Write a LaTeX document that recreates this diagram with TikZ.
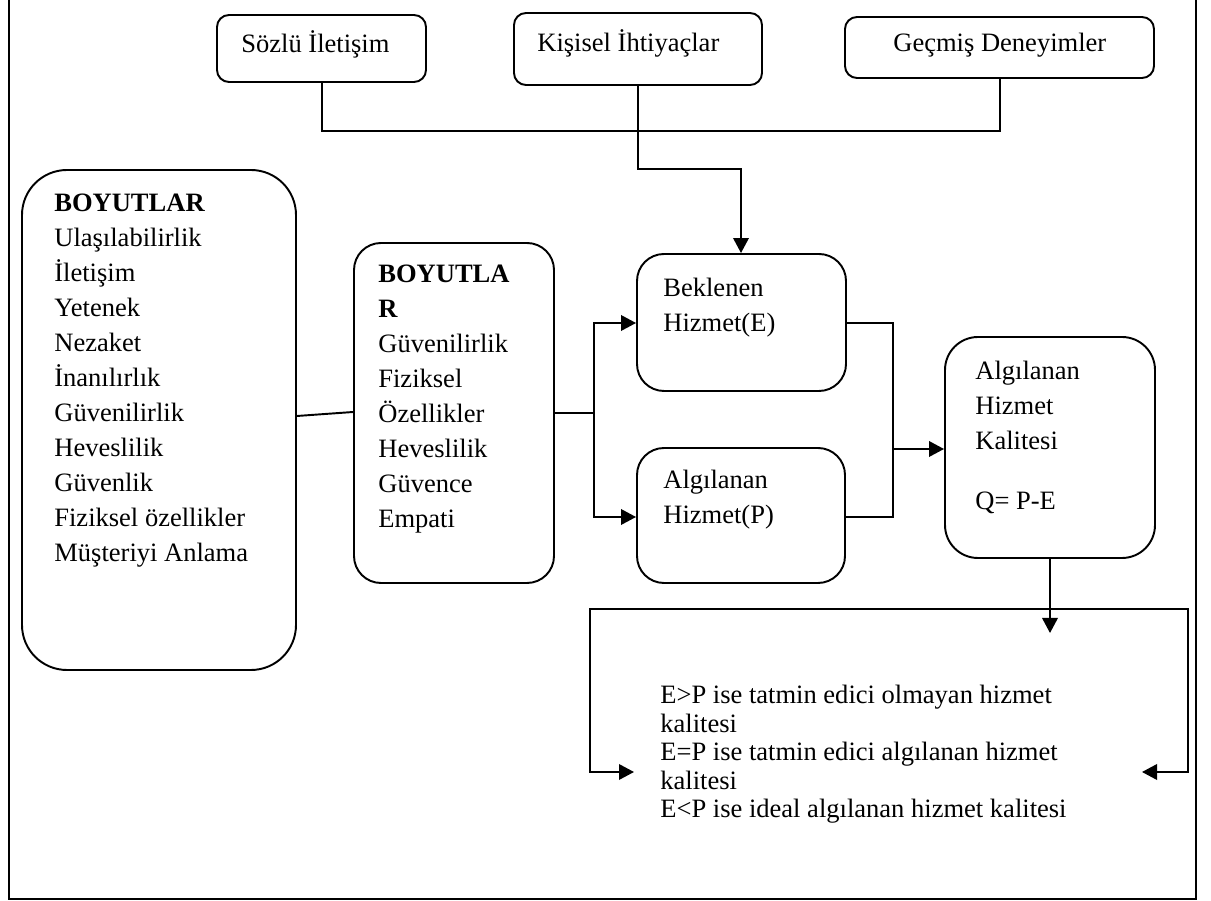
\documentclass[tikz,border=0pt]{standalone}
\usepackage{fontspec}
\setmainfont{Liberation Serif}
\usetikzlibrary{arrows.meta,fit}
\begin{document}
\begin{tikzpicture}[x=0.02cm,y=-0.02cm,
  tip/.tip={Triangle[length=0.3cm,width=0.31cm]},
  ln/.style={line width=1.1pt},
  arr/.style={line width=1.1pt,-tip},
  rbox/.style={draw,line width=1.1pt,inner sep=0pt,rectangle},
  txt/.style={inner sep=0pt,anchor=base west,font=\fontsize{15.1pt}{19.92pt}\selectfont},
  stxt/.style={inner sep=0pt,anchor=base west,font=\fontsize{15.1pt}{16.2pt}\selectfont}]
\useasboundingbox (0,0) rectangle (1211,901);
% outer frame
\draw[ln] (9,-5) -- (9,899) -- (1196,899) -- (1196,-5);
% top boxes
\node[rbox,rounded corners=0.24cm,fit={(217,15) (426,82)}] (s1) {};
\node[txt] (s1t) at (241,53) {Sözlü İletişim};
\node[rbox,rounded corners=0.24cm,fit={(514,13) (762,85)}] (s2) {};
\node[txt] (s2t) at (537,52) {Kişisel İhtiyaçlar};
\node[rbox,rounded corners=0.24cm,fit={(845,17) (1154,78)}] (s3) {};
\node[txt] (s3t) at (893,52) {Geçmiş Deneyimler};
% left boxes
\node[rbox,rounded corners=0.9cm,fit={(22,170) (296,670)}] (b1) {};
\node[txt] (b1t) at (54,212) {\begin{tabular}[t]{@{}l@{}}\textbf{BOYUTLAR}\\Ulaşılabilirlik\\İletişim\\Yetenek\\Nezaket\\İnanılırlık\\Güvenilirlik\\Heveslilik\\Güvenlik\\Fiziksel özellikler\\Müşteriyi Anlama\end{tabular}};
\node[rbox,rounded corners=0.54cm,fit={(354,243) (554,583)}] (b2) {};
\node[txt] (b2t) at (378,283) {\begin{tabular}[t]{@{}l@{}}\textbf{BOYUTLA}\\\textbf{R}\\Güvenilirlik\\Fiziksel\\Özellikler\\Heveslilik\\Güvence\\Empati\end{tabular}};
% E and P boxes
\node[rbox,rounded corners=0.54cm,fit={(637,254) (846,391)}] (e) {};
\node[txt] (et) at (663,297) {\begin{tabular}[t]{@{}l@{}}Beklenen\\Hizmet(E)\end{tabular}};
\node[rbox,rounded corners=0.54cm,fit={(637,448) (845,583)}] (p) {};
\node[txt] (pt) at (663,489) {\begin{tabular}[t]{@{}l@{}}Algılanan\\Hizmet(P)\end{tabular}};
% Q box
\node[rbox,rounded corners=0.66cm,fit={(945,337) (1155,558)}] (q) {};
\node[txt] (qt) at (975,380) {\begin{tabular}[t]{@{}l@{}}Algılanan\\Hizmet\\Kalitesi\\[14pt]Q= P-E\end{tabular}};
% result text
\node[stxt] (res) at (660,704) {\begin{tabular}[t]{@{}l@{}}E>P ise tatmin edici olmayan hizmet\\kalitesi\\E=P ise tatmin edici algılanan hizmet\\kalitesi\\E<P ise ideal algılanan hizmet kalitesi\end{tabular}};
% connectors top
\draw[ln] (s1.south -| 322,0) -- (322,131) -- (1000,131) -- (s3.south -| 1000,0);
\draw[arr] (s2.south -| 638,0) -- (638,169) -- (741,169) -- (e.north -| 741,0);
% B1 - B2
\draw[ln] (b1.east |- 0,416) -- (b2.west |- 0,412);
% B2 to E, P
\coordinate (j1) at (594,413);
\draw[ln] (b2.east |- j1) -- (j1);
\draw[arr] (j1) -- (594,323) -- (e.west |- 0,323);
\draw[arr] (j1) -- (594,517) -- (p.west |- 0,517);
% E, P to Q
\coordinate (j2) at (893,449);
\draw[ln] (e.east |- 0,323) -- (893,323) -- (893,517) -- (p.east |- 0,517);
\draw[arr] (j2) -- (q.west |- j2);
% Q down
\coordinate (qd) at (1050,633);
\draw[arr] (q.south -| qd) -- (qd);
% bracket
\coordinate (la) at (634,772);
\coordinate (ra) at (1142,772);
\draw[line width=1.1pt,tip-tip] (la) -- (590,772) -- (590,609) -- (1188,609) -- (1188,772) -- (ra);
\end{tikzpicture}
\end{document}
